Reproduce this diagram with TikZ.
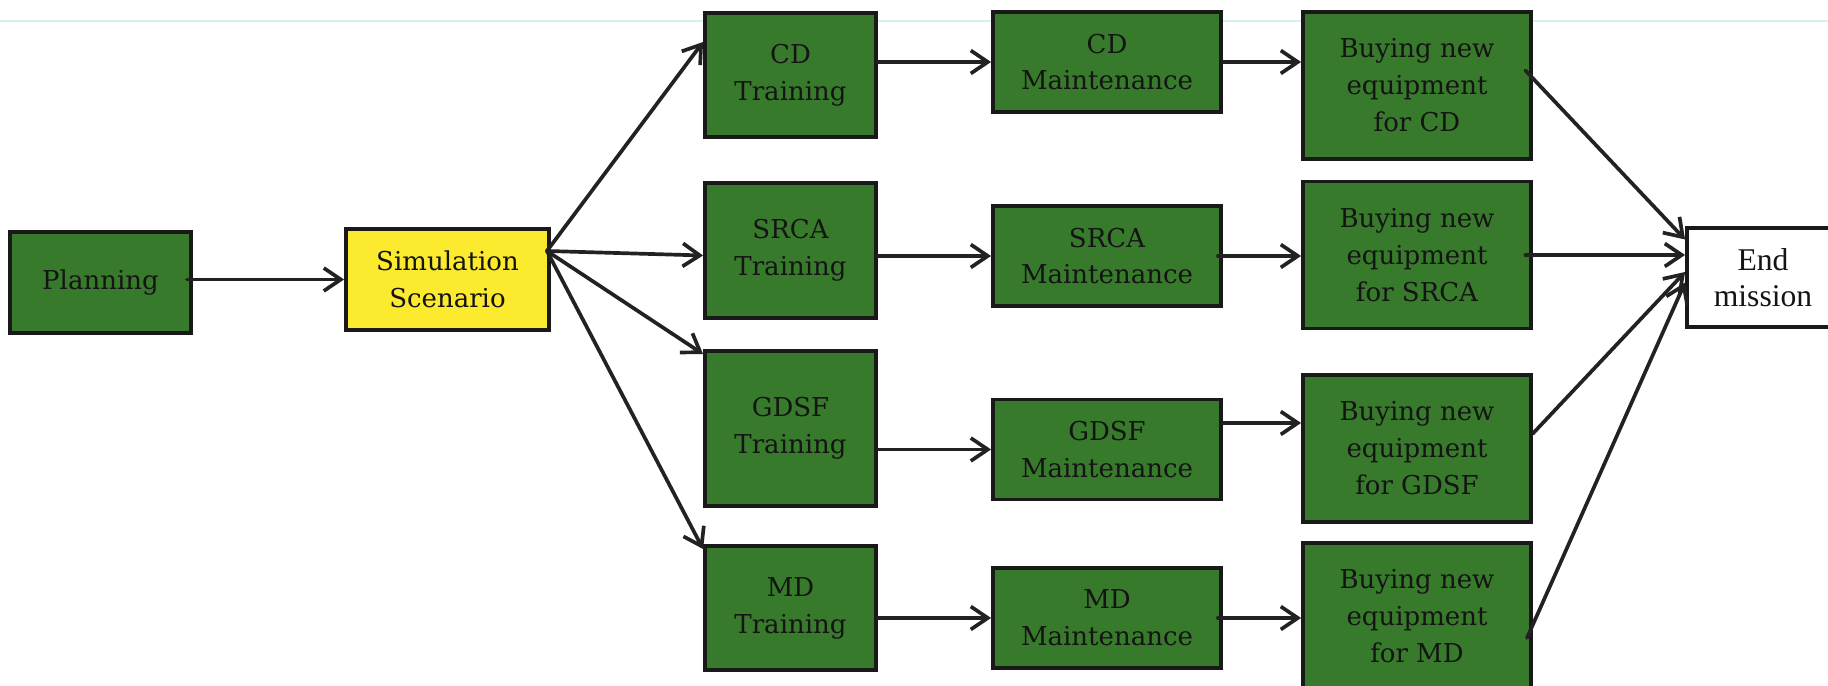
\documentclass[tikz,border=0pt]{standalone}
\usepackage{fontspec}
\setmainfont{DejaVu Serif}
\newfontfamily\endfont{Liberation Serif}
\usetikzlibrary{arrows.meta,calc}
\definecolor{cGreen} {HTML}{387A2B}
\definecolor{cYellow}{HTML}{FBEA2E}
\definecolor{cLine}  {HTML}{222222}
\definecolor{cRule}  {HTML}{D2F2F2}

\begin{document}
\begin{tikzpicture}[
    x=1cm,y=1cm,
    >={Straight Barb[length=3.4mm,width=4.6mm]},
    box/.style={draw=black!90,line width=2.2pt,align=center,inner sep=2pt,
                font=\fontsize{14.8}{21}\selectfont,text=black!92},
    grn/.style={box,fill=cGreen},
    trn/.style={grn,minimum width=3.42cm},
    mnt/.style={grn,minimum width=4.56cm,minimum height=2.0cm},
    buy/.style={grn,minimum width=4.56cm,minimum height=2.94cm},
    ar/.style ={->,line width=2.1pt,line cap=round,cLine},
  ]
  \useasboundingbox (0,0) rectangle (36.56,13.72);
  \clip (0,0) rectangle (36.56,13.72);

  % faint rule across the top
  \draw[cRule,line width=0.6pt] (0,13.30) -- (36.56,13.30);

  % ---------- START ----------
  \node[grn,minimum width=3.62cm,minimum height=2.02cm] (plan) at (2.01,8.07) {Planning};
  \node[box,fill=cYellow,minimum width=4.06cm,minimum height=2.02cm] (sim) at (8.95,8.13)
        {Simulation\\Scenario};

  % ---------- TRAINING ----------
  \node[trn,minimum height=2.48cm] (cdt) at (15.81,12.22) {CD\\Training};
  \node[trn,minimum height=2.70cm] (srt) at (15.81,8.71)  {SRCA\\Training};
  \node[trn,minimum height=3.10cm] (gdt) at (15.81,5.15)  {GDSF\\Training};
  \node[trn,minimum height=2.48cm] (mdt) at (15.81,1.56)  {MD\\Training};

  % ---------- MAINTENANCE ----------
  \node[mnt] (cdm) at (22.14,12.48) {CD\\Maintenance};
  \node[mnt] (srm) at (22.14,8.60)  {SRCA\\Maintenance};
  \node[mnt] (gdm) at (22.14,4.73)  {GDSF\\Maintenance};
  \node[mnt] (mdm) at (22.14,1.36)  {MD\\Maintenance};

  % ---------- EQUIPMENT ----------
  \node[buy] (cdb) at (28.34,12.01) {Buying new\\equipment\\for CD};
  \node[buy] (srb) at (28.34,8.62)  {Buying new\\equipment\\for SRCA};
  \node[buy] (gdb) at (28.34,4.75)  {Buying new\\equipment\\for GDSF};
  \node[buy] (mdb) at (28.34,1.39)  {Buying new\\equipment\\for MD};

  % ---------- END ----------
  \node[box,fill=white,minimum width=3.04cm,minimum height=1.98cm,
        font=\endfont\fontsize{18}{20.5}\selectfont] (endm) at (35.26,8.17) {End\\mission};

  % ---------- CONNECTORS ----------
  \draw[ar] ([xshift=-1.2mm]plan.east |- sim) -- (sim);

  \coordinate (fan) at ([xshift=-0.8mm,yshift=5.7mm]sim.east);
  \draw[ar] (fan) -- ([yshift=6.6mm]cdt.west);
  \draw[ar] (fan) -- ([yshift=-1mm]srt.west);
  \draw[ar] (fan) -- ([yshift=-1mm]gdt.north west);
  \draw[ar] (fan) -- ([yshift=-1mm]mdt.north west);

  \draw[ar] (cdt.east |- cdm) -- (cdm);
  \draw[ar] (srt.east |- srm) -- (srm);
  \draw[ar] (gdt.east |- gdm) -- (gdm);
  \draw[ar] (mdt.east |- mdm) -- (mdm);

  \draw[ar] (cdm) -- (cdm -| cdb.west);
  \draw[ar] ([xshift=-1mm]srm.east) -- (srm -| srb.west);
  \coordinate (gdo) at ([yshift=5.3mm]gdm.east);
  \draw[ar] (gdo) -- (gdo -| gdb.west);
  \draw[ar] ([xshift=-1mm]mdm.east) -- (mdm -| mdb.west);

  \draw[ar] ([xshift=-1.5mm,yshift=3mm]cdb.east)    -- ([yshift=7.6mm]endm.west);
  \draw[ar] ([xshift=-1.5mm]srb.east) -- (srb -| endm.west);
  \draw[ar] ([yshift=3mm]gdb.east)                  -- ([yshift=1.1mm]endm.west);
  \draw[ar] ([xshift=-1.2mm,yshift=-4.3mm]mdb.east) -- ([yshift=-1mm]endm.west);

\end{tikzpicture}
\end{document}
